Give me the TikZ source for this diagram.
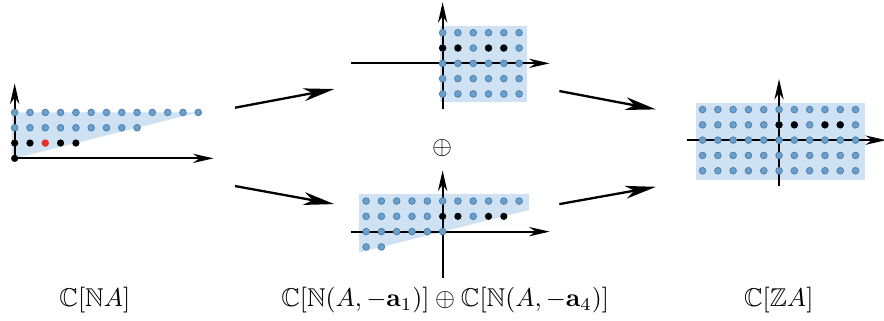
\documentclass[tikz,border=0pt]{standalone}
\usepackage{amssymb,amsmath}
\usetikzlibrary{arrows.meta}
\definecolor{cone}{RGB}{207,226,243}
\definecolor{ptfill}{RGB}{107,160,203}
\definecolor{ptedge}{RGB}{78,128,175}
\definecolor{redpt}{RGB}{228,48,38}

\begin{document}
\begin{tikzpicture}[x=0.209cm,y=0.209cm,
    ax/.style={line width=0.8pt,-{Stealth[length=8pt,width=3.6pt,inset=2.5pt]}},
    map/.style={line width=0.9pt,-{Stealth[length=12pt,width=5pt,inset=3.5pt]}},
    lat/.style={circle,fill=ptfill,draw=ptedge,line width=0.3pt,inner sep=0pt,minimum size=2.6pt},
    one/.style={circle,fill=black,inner sep=0pt,minimum size=2.8pt},
    hit/.style={circle,fill=redpt,inner sep=0pt,minimum size=2.9pt}]
  \useasboundingbox (0,0) rectangle (57.78,20.92);
  \begin{scope}[shift={(0.96,10.57)}]
    \fill[cone] (-0.2,0) -- (0,0) -- (12,3) -- (-0.2,3) -- cycle;
    \draw[ax] (0,0) -- (13,0);
    \draw[ax] (0,0) -- (0,4.9);
    \foreach \x in {0,...,12} \node[lat] at (\x,3) {};
    \foreach \x in {0,...,8} \node[lat] at (\x,2) {};
    \foreach \x in {0,1,3,4} \node[one] at (\x,1) {};
    \node[hit] (sel) at (2,1) {};
    \node[one] (o) at (0,0) {};
  \end{scope}
  \begin{scope}[shift={(28.93,16.78)}]
    \fill[cone] (-0.2,-2.5) rectangle (5.5,2.45);
    \draw[ax] (-6,0) -- (7,0);
    \draw[ax] (0,-3) -- (0,4);
    \foreach \y in {-2,...,2}
      \foreach \x in {0,...,5} \node[lat] at (\x,\y) {};
    \foreach \x in {0,1,3,4} \node[one] at (\x,1) {};
  \end{scope}
  \begin{scope}[shift={(28.93,5.78)}]
    \fill[cone] (-5.45,-1.36) -- (5.65,1.41) -- (5.65,2.45) -- (-5.45,2.45) -- cycle;
    \draw[ax] (-6,0) -- (7,0);
    \draw[ax] (0,-3) -- (0,4);
    \foreach \x in {-5,...,5} \node[lat] at (\x,2) {};
    \foreach \x in {-5,...,-1,2} \node[lat] at (\x,1) {};
    \foreach \x in {0,1,3,4} \node[one] at (\x,1) {};
    \foreach \x in {-5,...,0} \node[lat] at (\x,0) {};
    \foreach \x in {-5,-4} \node[lat] at (\x,-1) {};
  \end{scope}
  \begin{scope}[shift={(50.92,11.76)}]
    \fill[cone] (-5.45,-2.6) rectangle (5.6,2.45);
    \draw[ax] (-6,0) -- (7,0);
    \draw[ax] (0,-3) -- (0,4);
    \foreach \y in {-2,...,2}
      \foreach \x in {-5,...,5} \node[lat] at (\x,\y) {};
    \foreach \x in {0,1,3,4} \node[one] at (\x,1) {};
  \end{scope}
  \node (plus) at (28.89,11.24) {$\oplus$};
  \node (na) at (6.2,1.3) {$\mathbb{C}[\mathbb{N}A]$};
  \node (sum) at (29.1,1.3) {$\mathbb{C}[\mathbb{N}(A,-\mathbf{a}_1)]\oplus\mathbb{C}[\mathbb{N}(A,-\mathbf{a}_4)]$};
  \node (za) at (50.9,1.3) {$\mathbb{C}[\mathbb{Z}A]$};
  \coordinate (na-up) at (15.36,13.88);
  \coordinate (na-dn) at (15.36,8.76);
  \coordinate (top-in) at (21.85,15.10);
  \coordinate (bot-in) at (21.85,7.58);
  \coordinate (top-out) at (36.56,14.97);
  \coordinate (bot-out) at (36.56,7.58);
  \coordinate (za-up) at (42.88,13.77);
  \coordinate (za-dn) at (42.88,8.71);
  \draw[map] (na-up) -- (top-in);
  \draw[map] (na-dn) -- (bot-in);
  \draw[map] (top-out) -- (za-up);
  \draw[map] (bot-out) -- (za-dn);
\end{tikzpicture}
\end{document}
